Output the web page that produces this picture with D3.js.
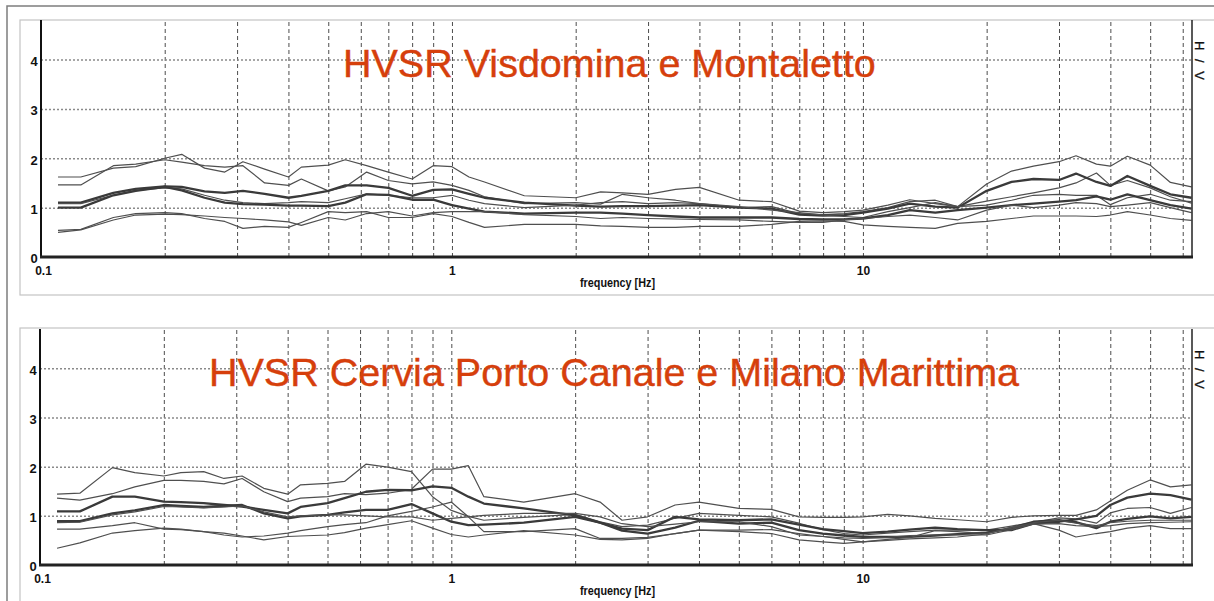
<!DOCTYPE html>
<html>
<head>
<meta charset="utf-8">
<script src="https://cdn.jsdelivr.net/npm/d3@7"></script>
<style>
  body { margin: 0; background: #fff; }
  svg { display: block; }
</style>
</head>
<body>
<svg id="chart" width="1214" height="601"></svg>
<script>
// frequencies (Hz) where every curve is sampled
const freqs = [0.11, 0.125, 0.15, 0.17, 0.2, 0.22, 0.25, 0.28, 0.31, 0.35,
  0.4, 0.43, 0.5, 0.55, 0.62, 0.7, 0.8, 0.9, 1, 1.1,
  1.2, 1.5, 2, 2.3, 2.6, 3, 3.5, 4, 5, 6,
  7, 8, 9, 10, 11.5, 13, 15, 17, 20, 23,
  26, 30, 33, 37, 40, 44, 50, 56, 63]

// H/V curves - Visdomina e Montaletto
const visdomina1 = [1.62, 1.62, 1.80, 1.83, 2.0, 2.08, 1.8, 1.72, 1.93, 1.78,
  1.62, 1.82, 1.86, 1.97, 1.85, 1.72, 1.58, 1.85, 1.83, 1.62,
  1.52, 1.24, 1.2, 1.32, 1.3, 1.27, 1.37, 1.41, 1.15, 1.12,
  0.93, 0.9, 0.92, 0.95, 1.05, 1.16, 1.08, 1.02, 1.48, 1.74,
  1.84, 1.93, 2.05, 1.88, 1.84, 2.04, 1.86, 1.51, 1.42]
const visdomina2 = [1.46, 1.46, 1.85, 1.88, 1.97, 1.92, 1.85, 1.82, 1.85, 1.5,
  1.45, 1.58, 1.34, 1.42, 1.72, 1.55, 1.48, 1.52, 1.45, 1.35,
  1.22, 1.08, 1.1, 1.07, 1.27, 1.2, 1.15, 1.08, 1.0, 1.02,
  0.88, 0.86, 0.88, 0.92, 1.0, 1.12, 1.15, 1.02, 1.13, 1.22,
  1.3, 1.4, 1.5, 1.7, 1.45, 1.55, 1.4, 1.22, 1.09]
const visdomina3 = [1.1, 1.1, 1.3, 1.38, 1.43, 1.42, 1.33, 1.3, 1.34, 1.28,
  1.2, 1.24, 1.34, 1.45, 1.45, 1.4, 1.24, 1.36, 1.37, 1.28,
  1.2, 1.1, 1.04, 1.02, 1.03, 1.03, 1.04, 1.05, 1.0, 0.98,
  0.86, 0.84, 0.85, 0.9, 0.98, 1.08, 1.02, 1.0, 1.34, 1.52,
  1.58, 1.56, 1.69, 1.52, 1.44, 1.64, 1.44, 1.27, 1.2]
const visdomina4 = [1.08, 1.08, 1.25, 1.35, 1.4, 1.38, 1.25, 1.15, 1.1, 1.08,
  1.1, 1.12, 1.1, 1.18, 1.28, 1.25, 1.2, 1.2, 1.25, 1.15,
  1.08, 1.0, 1.05, 1.1, 1.12, 1.08, 1.1, 1.08, 1.02, 0.95,
  0.9, 0.85, 0.82, 0.8, 0.92, 1.0, 1.1, 1.02, 1.05, 1.15,
  1.25, 1.27, 1.25, 1.25, 1.06, 1.2, 1.27, 1.15, 1.12]
const visdomina5 = [1.0, 1.0, 1.25, 1.34, 1.42, 1.35, 1.2, 1.1, 1.07, 1.06,
  1.04, 1.04, 1.03, 1.1, 1.27, 1.26, 1.16, 1.16, 1.05, 0.98,
  0.92, 0.88, 0.9, 0.9, 0.88, 0.85, 0.82, 0.8, 0.8, 0.8,
  0.77, 0.76, 0.76, 0.78, 0.85, 0.95, 0.9, 0.95, 1.0, 1.05,
  1.08, 1.12, 1.15, 1.23, 1.16, 1.27, 1.15, 1.05, 0.98]
const visdomina6 = [0.54, 0.56, 0.8, 0.88, 0.9, 0.88, 0.78, 0.72, 0.58, 0.62,
  0.6, 0.7, 0.92, 0.9, 0.92, 0.8, 0.8, 0.88, 0.82, 0.7,
  0.6, 0.66, 0.66, 0.63, 0.62, 0.6, 0.6, 0.62, 0.62, 0.66,
  0.72, 0.73, 0.72, 0.65, 0.62, 0.6, 0.58, 0.68, 0.72, 0.78,
  0.83, 0.83, 0.83, 0.82, 0.85, 0.92, 0.85, 0.78, 0.74]
const visdomina7 = [0.5, 0.55, 0.75, 0.85, 0.87, 0.86, 0.83, 0.8, 0.78, 0.75,
  0.71, 0.64, 0.8, 0.75, 0.88, 0.92, 0.83, 0.9, 0.92, 0.92,
  0.92, 0.86, 0.82, 0.78, 0.8, 0.78, 0.77, 0.76, 0.75, 0.72,
  0.7, 0.7, 0.75, 0.78, 0.82, 0.85, 0.8, 0.75, 0.95, 1.05,
  1.0, 1.05, 1.1, 1.08, 1.02, 1.05, 1.1, 1.0, 0.9]

// H/V curves - Cervia Porto Canale e Milano Marittima
const cervia1 = [1.44, 1.46, 1.98, 1.88, 1.81, 1.88, 1.9, 1.76, 1.81, 1.56,
  1.44, 1.63, 1.66, 1.7, 2.05, 1.99, 1.9, 1.39, 1.11, 0.99,
  0.91, 0.97, 1.03, 0.88, 0.78, 0.81, 0.95, 1.05, 1.01, 0.98,
  0.85, 0.72, 0.64, 0.61, 0.65, 0.68, 0.71, 0.71, 0.71, 0.79,
  0.87, 0.96, 0.94, 0.85, 1.06, 1.15, 1.17, 1.05, 1.17]
const cervia2 = [1.36, 1.32, 1.45, 1.59, 1.72, 1.72, 1.7, 1.65, 1.76, 1.49,
  1.29, 1.36, 1.39, 1.45, 1.43, 1.46, 1.54, 1.95, 1.95, 2.02,
  1.39, 1.28, 1.45, 1.28, 0.91, 0.98, 1.22, 1.28, 1.15, 1.13,
  0.98, 0.97, 0.97, 0.98, 1.03, 1.0, 0.95, 0.92, 0.88, 0.97,
  1.0, 1.01, 1.01, 1.12, 1.3, 1.52, 1.73, 1.59, 1.63]
const cervia3 = [1.09, 1.09, 1.39, 1.39, 1.29, 1.28, 1.26, 1.22, 1.19, 1.12,
  1.05, 1.18, 1.26, 1.36, 1.49, 1.53, 1.52, 1.6, 1.57, 1.39,
  1.25, 1.15, 1.01, 0.86, 0.74, 0.71, 0.98, 0.93, 0.91, 0.93,
  0.82, 0.73, 0.69, 0.65, 0.68, 0.72, 0.76, 0.73, 0.71, 0.71,
  0.84, 0.88, 0.93, 1.0, 1.22, 1.37, 1.45, 1.42, 1.33]
const cervia4 = [0.89, 0.89, 1.05, 1.11, 1.22, 1.2, 1.18, 1.2, 1.22, 1.05,
  0.95, 0.99, 1.02, 1.07, 1.12, 1.12, 1.24, 1.05, 0.88, 0.81,
  0.82, 0.86, 0.98, 0.86, 0.7, 0.64, 0.76, 0.9, 0.84, 0.86,
  0.71, 0.64, 0.6, 0.57, 0.57, 0.57, 0.6, 0.63, 0.66, 0.75,
  0.88, 0.91, 0.87, 0.75, 0.88, 0.94, 0.99, 0.95, 0.98]
const cervia5 = [0.73, 0.73, 0.8, 0.86, 0.73, 0.72, 0.68, 0.61, 0.57, 0.59,
  0.65, 0.7, 0.78, 0.82, 0.86, 1.0, 1.09, 1.18, 1.28, 0.98,
  0.68, 0.68, 0.74, 0.54, 0.54, 0.56, 0.64, 0.71, 0.71, 0.72,
  0.64, 0.58, 0.52, 0.47, 0.52, 0.56, 0.7, 0.68, 0.64, 0.75,
  0.86, 0.91, 0.85, 0.8, 0.86, 0.89, 0.91, 0.91, 0.91]
const cervia6 = [0.34, 0.45, 0.65, 0.7, 0.75, 0.73, 0.68, 0.65, 0.59, 0.51,
  0.58, 0.59, 0.61, 0.66, 0.75, 0.82, 0.9, 0.75, 0.62, 0.57,
  0.61, 0.7, 0.61, 0.52, 0.51, 0.54, 0.64, 0.71, 0.68, 0.64,
  0.51, 0.47, 0.44, 0.47, 0.5, 0.53, 0.55, 0.57, 0.63, 0.77,
  0.84, 0.71, 0.57, 0.64, 0.68, 0.75, 0.8, 0.74, 0.74]
const cervia7 = [0.86, 0.87, 1.02, 1.08, 1.19, 1.18, 1.16, 1.18, 1.2, 1.08,
  0.98, 1.0, 1.02, 1.02, 1.0, 0.98, 0.98, 0.91, 0.95, 0.98,
  1.01, 1.05, 1.05, 0.98, 0.84, 0.78, 0.83, 0.88, 0.88, 0.78,
  0.61, 0.58, 0.55, 0.54, 0.56, 0.6, 0.61, 0.61, 0.61, 0.72,
  0.83, 0.84, 0.8, 0.78, 0.8, 0.84, 0.86, 0.87, 0.88]

const yLabelTicks = [0, 1, 2, 3, 4]
const yGridTicks = [1, 2, 3, 4]
const xLabelTicks = [0.1, 1, 10]

const W = 1214
const plotRight = 1192

const panels = [
  {
    title: 'HVSR Visdomina e Montaletto', titleX: 343,
    series: [visdomina1, visdomina2, visdomina3, visdomina4, visdomina5, visdomina6, visdomina7],
    heavy: [2, 4],
    frameTop: 20, frameBottom: 295, top: 20, bottom: 257, left: 41
  },
  {
    title: 'HVSR Cervia Porto Canale e Milano Marittima', titleX: 209,
    series: [cervia1, cervia2, cervia3, cervia4, cervia5, cervia6, cervia7],
    heavy: [2, 3],
    frameTop: 328, frameBottom: 640, top: 329, bottom: 565, left: 40
  }
]

const svg = d3.select('#chart')
const labelFont = '"Liberation Sans", Arial, sans-serif'

// outer picture border
svg.append('rect')
  .attr('x', 7).attr('y', 6)
  .attr('width', W + 20).attr('height', 640)
  .attr('fill', '#fff')
  .attr('stroke', '#7d7d7d')
  .attr('stroke-width', 1.5)

panels.forEach(p => {
  const g = svg.append('g')

  g.append('rect')
    .attr('x', 20).attr('y', p.frameTop)
    .attr('width', W).attr('height', p.frameBottom - p.frameTop)
    .attr('fill', '#fff')
    .attr('stroke', '#c4c4c4')
    .attr('stroke-width', 1.2)

  const x = d3.scaleLog().domain([0.1, 63.2]).range([p.left, plotRight])
  const y = d3.scaleLinear().domain([0, 4.8]).range([p.bottom, p.top])

  // vertical grid (every log tick except the axis itself)
  const gridFreqs = x.ticks().filter(d => d > 0.1 && d < 63)
  const vGrid = g.append('g')
    .attr('transform', `translate(0,${p.bottom})`)
    .call(d3.axisBottom(x).tickValues(gridFreqs).tickSize(-(p.bottom - p.top)).tickFormat(''))
  vGrid.select('.domain').remove()
  vGrid.selectAll('line')
    .attr('stroke', '#4d4d4d')
    .attr('stroke-width', 1)
    .attr('stroke-dasharray', '4,3')

  // horizontal grid
  const hGrid = g.append('g')
    .attr('transform', `translate(${p.left},0)`)
    .call(d3.axisLeft(y).tickValues(yGridTicks).tickSize(-(plotRight - p.left)).tickFormat(''))
  hGrid.select('.domain').remove()
  hGrid.selectAll('line')
    .attr('stroke', '#8a8a8a')
    .attr('stroke-width', 1.5)
    .attr('stroke-dasharray', '2,2')

  // title
  g.append('text')
    .attr('x', p.titleX)
    .attr('y', p.top + 57)
    .attr('fill', '#d63f0c')
    .attr('stroke', '#d63f0c')
    .attr('stroke-width', 0.4)
    .attr('font-family', '"Liberation Sans", Arial, sans-serif')
    .attr('font-size', '39.5px')
    .text(p.title)

  // curves
  const line = d3.line()
    .x((d, i) => x(freqs[i]))
    .y(d => y(d))

  p.series.forEach((vals, i) => {
    const thick = p.heavy.includes(i)
    g.append('path')
      .datum(vals)
      .attr('d', line)
      .attr('fill', 'none')
      .attr('stroke', thick ? '#3a3a3a' : '#4f4f4f')
      .attr('stroke-width', thick ? 2.3 : 1.2)
      .attr('stroke-linejoin', 'round')
  })

  // axis frame lines
  g.append('line')
    .attr('x1', p.left).attr('x2', p.left)
    .attr('y1', p.top).attr('y2', p.bottom)
    .attr('stroke', '#111').attr('stroke-width', 2)
  g.append('line')
    .attr('x1', plotRight).attr('x2', plotRight)
    .attr('y1', p.top).attr('y2', p.bottom)
    .attr('stroke', '#222').attr('stroke-width', 1.5)
  g.append('line')
    .attr('x1', p.left - 1).attr('x2', plotRight + 1)
    .attr('y1', p.bottom).attr('y2', p.bottom)
    .attr('stroke', '#222').attr('stroke-width', 3)

  // tick labels
  const xAxis = g.append('g')
    .attr('transform', `translate(0,${p.bottom})`)
    .call(d3.axisBottom(x).tickValues(xLabelTicks).tickSize(0).tickFormat(d => String(d)))
  xAxis.select('.domain').remove()
  xAxis.selectAll('text')
    .attr('y', 18).attr('dy', null)
    .attr('font-family', labelFont)
    .attr('font-weight', 'bold')
    .attr('font-size', '12px')
    .attr('fill', '#111')
  xAxis.selectAll('.tick').filter(d => d === 0.1).select('text').attr('x', 2)

  const yAxis = g.append('g')
    .attr('transform', `translate(${p.left},0)`)
    .call(d3.axisLeft(y).tickValues(yLabelTicks).tickSize(0).tickFormat(d3.format('d')))
  yAxis.select('.domain').remove()
  yAxis.selectAll('text')
    .attr('x', -7).attr('dy', '0.45em')
    .attr('text-anchor', 'middle')
    .attr('font-family', labelFont)
    .attr('font-weight', 'bold')
    .attr('font-size', '13px')
    .attr('fill', '#111')

  g.append('text')
    .attr('x', 580)
    .attr('y', p.bottom + 30)
    .attr('textLength', 75)
    .attr('lengthAdjust', 'spacingAndGlyphs')
    .attr('font-family', labelFont)
    .attr('font-weight', 'bold')
    .attr('font-size', '13px')
    .attr('fill', '#111')
    .text('frequency [Hz]')

  // rotated ratio label on the right edge
  g.append('text')
    .attr('transform', `translate(1194.5,${p.top + 21}) rotate(90)`)
    .attr('font-family', '"Liberation Sans", Arial, sans-serif')
    .attr('font-size', '13px')
    .attr('letter-spacing', '2.5px')
    .attr('fill', '#111')
    .attr('stroke', '#111')
    .attr('stroke-width', 0.35)
    .text('H / V')
})
</script>
</body>
</html>
